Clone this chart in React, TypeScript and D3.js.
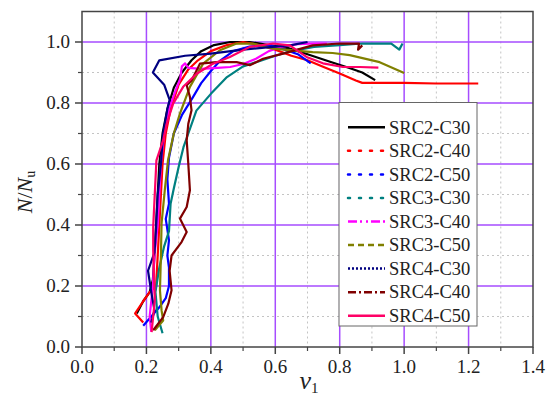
import React, { useEffect, useRef } from 'react';
import * as d3 from 'd3';

type Pt = [number, number];

// series names / colours / legend dash styles
const seriesNames = ['SRC2-C30', 'SRC2-C40', 'SRC2-C50', 'SRC3-C30', 'SRC3-C40', 'SRC3-C50', 'SRC4-C30', 'SRC4-C40', 'SRC4-C50'];
const seriesColors = ['#000000', '#ff0000', '#0000ff', '#008080', '#ff00ff', '#808000', '#000080', '#800000', '#ff0066'];
const legendDash = ['', '2,9', '2,9', '2,9', '9,3,2,4,2,3', '6,4', '2,2', '8,3,2,3', ''];

// curves (v1, N/Nu)
const src2C30: Pt[] = [[0.17, 0.11], [0.19, 0.15], [0.21, 0.18], [0.22, 0.22], [0.225, 0.3], [0.23, 0.4], [0.235, 0.5], [0.24, 0.6], [0.25, 0.7], [0.265, 0.78], [0.285, 0.85], [0.31, 0.9], [0.34, 0.94], [0.37, 0.97], [0.41, 0.99], [0.46, 1.0], [0.52, 1.0], [0.58, 0.99], [0.64, 0.98], [0.7, 0.96], [0.77, 0.935], [0.83, 0.915], [0.87, 0.9], [0.91, 0.875]];
const src2C40: Pt[] = [[0.19, 0.08], [0.165, 0.11], [0.19, 0.15], [0.21, 0.18], [0.23, 0.2], [0.235, 0.3], [0.24, 0.4], [0.245, 0.5], [0.25, 0.6], [0.26, 0.7], [0.275, 0.78], [0.3, 0.86], [0.33, 0.91], [0.36, 0.94], [0.4, 0.97], [0.45, 0.99], [0.5, 1.0], [0.55, 0.99], [0.6, 0.975], [0.65, 0.955], [0.7, 0.94], [0.75, 0.918], [0.8, 0.897], [0.85, 0.874], [0.87, 0.866], [1.0, 0.866], [1.1, 0.864], [1.23, 0.864]];
const src2C50: Pt[] = [[0.19, 0.07], [0.215, 0.1], [0.24, 0.13], [0.26, 0.16], [0.27, 0.2], [0.27, 0.26], [0.265, 0.3], [0.27, 0.35], [0.26, 0.42], [0.27, 0.47], [0.265, 0.55], [0.27, 0.62], [0.285, 0.7], [0.31, 0.76], [0.345, 0.82], [0.37, 0.865], [0.4, 0.905], [0.43, 0.94], [0.47, 0.97], [0.52, 0.985], [0.58, 0.99], [0.63, 0.975], [0.67, 0.96], [0.71, 0.93]];
const src3C30: Pt[] = [[0.25, 0.045], [0.235, 0.1], [0.228, 0.18], [0.24, 0.26], [0.255, 0.33], [0.27, 0.38], [0.275, 0.47], [0.285, 0.52], [0.3, 0.59], [0.315, 0.655], [0.33, 0.7], [0.355, 0.775], [0.4, 0.83], [0.45, 0.885], [0.5, 0.92], [0.55, 0.937], [0.6, 0.955], [0.65, 0.97], [0.72, 0.984], [0.8, 0.99], [0.87, 0.995], [0.96, 0.995], [0.985, 0.975], [0.995, 0.995]];
const src3C40: Pt[] = [[0.215, 0.05], [0.21, 0.1], [0.22, 0.2], [0.225, 0.3], [0.235, 0.4], [0.24, 0.5], [0.245, 0.6], [0.255, 0.7], [0.27, 0.78], [0.29, 0.84], [0.305, 0.88], [0.31, 0.92], [0.32, 0.93], [0.33, 0.915], [0.37, 0.912], [0.42, 0.915], [0.46, 0.918], [0.5, 0.928], [0.54, 0.945], [0.58, 0.97], [0.62, 0.985], [0.67, 0.993], [0.73, 0.995], [0.76, 0.995]];
const src3C50: Pt[] = [[0.226, 0.055], [0.252, 0.087], [0.247, 0.12], [0.242, 0.186], [0.245, 0.3], [0.247, 0.405], [0.257, 0.514], [0.267, 0.612], [0.285, 0.7], [0.304, 0.765], [0.335, 0.853], [0.376, 0.929], [0.428, 0.973], [0.48, 0.995], [0.53, 0.995], [0.593, 0.978], [0.716, 0.967], [0.778, 0.964], [0.831, 0.957], [0.924, 0.934], [1.0, 0.898]];
const src4C30: Pt[] = [[0.215, 0.08], [0.225, 0.12], [0.215, 0.18], [0.205, 0.25], [0.225, 0.31], [0.23, 0.39], [0.235, 0.5], [0.245, 0.6], [0.252, 0.7], [0.265, 0.78], [0.272, 0.81], [0.255, 0.86], [0.22, 0.9], [0.24, 0.94], [0.32, 0.955], [0.4, 0.962], [0.5, 0.975], [0.6, 0.985], [0.65, 0.99], [0.7, 1.0]];
const src4C40: Pt[] = [[0.221, 0.055], [0.252, 0.098], [0.268, 0.142], [0.278, 0.186], [0.272, 0.25], [0.278, 0.3], [0.309, 0.344], [0.325, 0.377], [0.304, 0.421], [0.325, 0.459], [0.335, 0.514], [0.33, 0.6], [0.325, 0.678], [0.33, 0.732], [0.34, 0.776], [0.335, 0.82], [0.325, 0.858], [0.34, 0.874], [0.356, 0.907], [0.366, 0.929], [0.418, 0.934], [0.48, 0.934], [0.521, 0.924], [0.562, 0.945], [0.624, 0.962], [0.716, 0.989], [0.8, 0.995], [0.86, 0.995], [0.857, 0.975], [0.87, 0.989]];
const src4C50: Pt[] = [[0.216, 0.049], [0.226, 0.153], [0.221, 0.317], [0.221, 0.393], [0.226, 0.503], [0.231, 0.612], [0.252, 0.678], [0.263, 0.732], [0.283, 0.798], [0.314, 0.853], [0.356, 0.896], [0.407, 0.929], [0.459, 0.951], [0.521, 0.984], [0.593, 0.995], [0.645, 0.989], [0.697, 0.951], [0.748, 0.93], [0.81, 0.918], [0.862, 0.918], [0.92, 0.916]];

const seriesData = [src2C30, src2C40, src2C50, src3C30, src3C40, src3C50, src4C30, src4C40, src4C50];

const xTicks = [0, 0.2, 0.4, 0.6, 0.8, 1.0, 1.2, 1.4];
const yTicks = [0, 0.2, 0.4, 0.6, 0.8, 1.0];

const FONT = "'Liberation Serif', 'Times New Roman', 'DejaVu Serif', serif";

const App = () => {
  const ref = useRef<SVGSVGElement>(null);

  useEffect(() => {
    const width = 554;
    const height = 402;
    const left = 82;
    const right = 533;
    const top = 11.5;
    const bottom = 347;

    const svg = d3.select(ref.current);
    svg.selectAll('*').remove();
    svg.attr('width', width).attr('height', height);

    const x = d3.scaleLinear().domain([0, 1.4]).range([left, right]);
    const y = d3.scaleLinear().domain([0, 1.1]).range([bottom, top]);

    svg.append('rect').attr('width', width).attr('height', height).attr('fill', '#fff');

    // Minor grid (dotted)
    const minorX = d3.range(0.1, 1.4, 0.2);
    const minorY = d3.range(0.1, 1.1, 0.2);
    const grid = svg.append('g');
    grid.selectAll('line.mx').data(minorX).enter().append('line')
      .attr('x1', d => x(d)).attr('x2', d => x(d)).attr('y1', top).attr('y2', bottom)
      .attr('stroke', '#c4c4c4').attr('stroke-dasharray', '2,3');
    grid.selectAll('line.my').data(minorY).enter().append('line')
      .attr('y1', d => y(d)).attr('y2', d => y(d)).attr('x1', left).attr('x2', right)
      .attr('stroke', '#c4c4c4').attr('stroke-dasharray', '2,3');

    // Major grid (purple)
    grid.selectAll('line.gx').data(xTicks.slice(1, -1)).enter().append('line')
      .attr('x1', d => x(d)).attr('x2', d => x(d)).attr('y1', top).attr('y2', bottom)
      .attr('stroke', '#a64dff').attr('stroke-width', 1.5);
    grid.selectAll('line.gy').data(yTicks.slice(1)).enter().append('line')
      .attr('y1', d => y(d)).attr('y2', d => y(d)).attr('x1', left).attr('x2', right)
      .attr('stroke', '#a64dff').attr('stroke-width', 1.5);

    // Curves
    const line = d3.line<Pt>().x(d => x(d[0])).y(d => y(d[1]));
    seriesData.forEach((pts, i) => {
      svg.append('path')
        .attr('d', line(pts))
        .attr('fill', 'none')
        .attr('stroke', seriesColors[i])
        .attr('stroke-width', 2.2)
        .attr('stroke-linejoin', 'round');
    });

    // Frame
    svg.append('rect')
      .attr('x', left).attr('y', top).attr('width', right - left).attr('height', bottom - top)
      .attr('fill', 'none').attr('stroke', '#444').attr('stroke-width', 1.5);

    // Axes
    const xAxis = svg.append('g').attr('transform', `translate(0, ${bottom})`);
    xAxis.selectAll('line.maj').data(xTicks).enter().append('line')
      .attr('x1', d => x(d)).attr('x2', d => x(d)).attr('y1', 0).attr('y2', 7)
      .attr('stroke', '#444').attr('stroke-width', 1.5);
    xAxis.selectAll('line.min').data(minorX).enter().append('line')
      .attr('x1', d => x(d)).attr('x2', d => x(d)).attr('y1', 0).attr('y2', 4)
      .attr('stroke', '#444').attr('stroke-width', 1.2);
    xAxis.selectAll('text').data(xTicks).enter().append('text')
      .attr('x', d => x(d)).attr('y', 25.5)
      .attr('text-anchor', 'middle')
      .style('font-family', FONT).style('font-size', '19px').attr('fill', '#222')
      .text(d => d.toFixed(1));

    const yAxis = svg.append('g').attr('transform', `translate(${left}, 0)`);
    yAxis.selectAll('line.maj').data(yTicks).enter().append('line')
      .attr('y1', d => y(d)).attr('y2', d => y(d)).attr('x1', 0).attr('x2', -7)
      .attr('stroke', '#444').attr('stroke-width', 1.5);
    yAxis.selectAll('line.min').data(minorY).enter().append('line')
      .attr('y1', d => y(d)).attr('y2', d => y(d)).attr('x1', 0).attr('x2', -4)
      .attr('stroke', '#444').attr('stroke-width', 1.2);
    yAxis.selectAll('text').data(yTicks).enter().append('text')
      .attr('x', -12).attr('y', d => y(d)).attr('dy', '0.34em')
      .attr('text-anchor', 'end')
      .style('font-family', FONT).style('font-size', '19px').attr('fill', '#222')
      .text(d => d.toFixed(1));

    // Axis titles
    const xt = svg.append('text')
      .attr('x', 309).attr('y', 389)
      .attr('text-anchor', 'middle')
      .style('font-family', FONT).style('font-size', '26px').attr('fill', '#222');
    xt.append('tspan').style('font-style', 'italic').text('v');
    xt.append('tspan').style('font-size', '15px').attr('dy', 4).text('1');

    const yt = svg.append('text')
      .attr('transform', 'translate(32, 192) rotate(-90)')
      .attr('text-anchor', 'middle')
      .style('font-family', FONT).style('font-size', '22px').attr('fill', '#222');
    yt.append('tspan').style('font-style', 'italic').text('N');
    yt.append('tspan').text('/');
    yt.append('tspan').style('font-style', 'italic').text('N');
    yt.append('tspan').style('font-size', '14px').attr('dy', 3).text('u');

    // Legend
    const lg = svg.append('g');
    lg.append('rect')
      .attr('x', 339).attr('y', 102.5).attr('width', 138).attr('height', 223.5)
      .attr('fill', '#fff').attr('stroke', '#666').attr('stroke-width', 1);
    seriesNames.forEach((name, i) => {
      const ly = 127.3 + i * 23.55;
      lg.append('line')
        .attr('x1', 348).attr('x2', 385).attr('y1', ly).attr('y2', ly)
        .attr('stroke', seriesColors[i]).attr('stroke-width', 2.5)
        .attr('stroke-dasharray', legendDash[i] || null)
        .attr('stroke-linecap', legendDash[i] === '2,9' ? 'round' : 'butt');
      lg.append('text')
        .attr('x', 389).attr('y', ly).attr('dy', '0.34em')
        .style('font-family', FONT).style('font-size', '18.5px').attr('fill', '#222')
        .text(name);
    });
  }, []);

  return <svg ref={ref} style={{ position: 'absolute', left: 0, top: 0 }} />;
};

export default App;
